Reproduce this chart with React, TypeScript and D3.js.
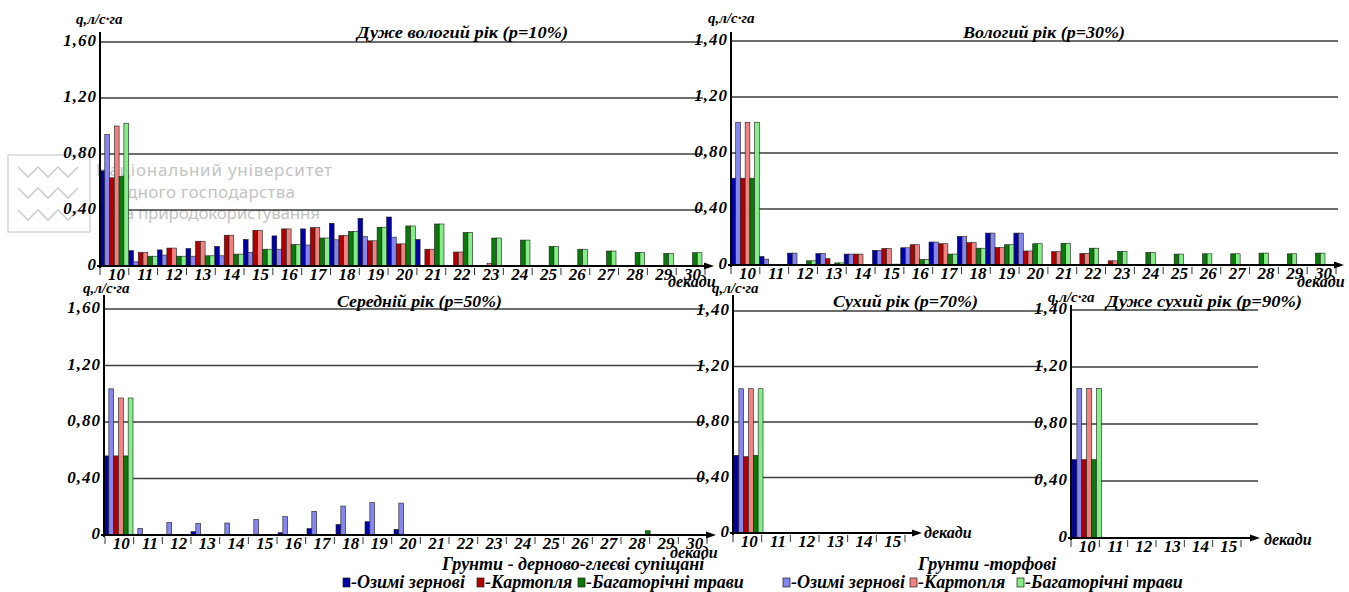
import React from "react";
import * as d3 from "d3";

// categories
const decadesLong = ["10", "11", "12", "13", "14", "15", "16", "17", "18", "19", "20",
  "21", "22", "23", "24", "25", "26", "27", "28", "29", "30"];
const decadesShort = ["10", "11", "12", "13", "14", "15"];

const yTickValues = [0, 0.4, 0.8, 1.2, 1.6];
const yLabelsA = ["0", "0,40", "0,80", "1,20", "1,60"];
const yLabelsB = ["0", "0,40", "0,80", "1,20", "1,40"];

const cropNames = ["Озимі зернові", "Картопля", "Багаторічні трави"];
const soilNames = ["Грунти - дерново-глеєві супіщані", "Грунти -торфові"];
// order: grain sod, grain peat, potato sod, potato peat, grass sod, grass peat
const colors = ["#0000a6", "#8686f0", "#b20000", "#f08282", "#0a780a", "#86ee86"];

// Дуже вологий рік (p=10%)
const p10GrainSod = [0.68, 0.11, 0.115, 0.125, 0.14, 0.19, 0.215, 0.265, 0.305, 0.34, 0.35, 0.19, 0, 0, 0, 0, 0, 0, 0, 0, 0];
const p10GrainPeat = [0.94, 0.03, 0.078, 0.07, 0.073, 0.097, 0.12, 0.15, 0.187, 0.21, 0.206, 0, 0, 0, 0, 0, 0, 0, 0, 0, 0];
const p10PotatoSod = [0.63, 0.097, 0.128, 0.177, 0.22, 0.255, 0.265, 0.274, 0.218, 0.18, 0.158, 0.12, 0.1, 0, 0, 0, 0, 0, 0, 0, 0];
const p10PotatoPeat = [1.0, 0.097, 0.128, 0.177, 0.22, 0.255, 0.265, 0.274, 0.218, 0.18, 0.158, 0.12, 0.1, 0.02, 0, 0, 0, 0, 0, 0, 0];
const p10GrassSod = [0.64, 0.07, 0.07, 0.073, 0.085, 0.12, 0.153, 0.2, 0.247, 0.277, 0.286, 0.3, 0.24, 0.2, 0.185, 0.14, 0.12, 0.107, 0.097, 0.09, 0.095];
const p10GrassPeat = [1.02, 0.07, 0.07, 0.073, 0.085, 0.12, 0.153, 0.2, 0.247, 0.277, 0.286, 0.3, 0.24, 0.2, 0.185, 0.14, 0.12, 0.107, 0.097, 0.09, 0.095];

// Вологий рік (p=30%)
const p30GrainSod = [0.62, 0.06, 0.085, 0.082, 0.078, 0.105, 0.123, 0.164, 0.204, 0.228, 0.228, 0, 0, 0, 0, 0, 0, 0, 0, 0, 0];
const p30GrainPeat = [1.02, 0.042, 0.085, 0.082, 0.078, 0.105, 0.123, 0.164, 0.204, 0.228, 0.228, 0, 0, 0, 0, 0, 0, 0, 0, 0, 0];
const p30PotatoSod = [0.62, 0, 0, 0.045, 0.078, 0.118, 0.145, 0.152, 0.16, 0.125, 0.1, 0.095, 0.083, 0.03, 0, 0, 0, 0, 0, 0, 0];
const p30PotatoPeat = [1.02, 0, 0, 0, 0.078, 0.118, 0.145, 0.152, 0.16, 0.125, 0.1, 0.095, 0.083, 0.03, 0, 0, 0, 0, 0, 0, 0];
const p30GrassSod = [0.62, 0, 0.03, 0.015, 0.004, 0.006, 0.04, 0.078, 0.12, 0.145, 0.152, 0.155, 0.12, 0.097, 0.09, 0.078, 0.08, 0.08, 0.085, 0.08, 0.085];
const p30GrassPeat = [1.02, 0, 0.03, 0.015, 0.004, 0.006, 0.04, 0.078, 0.12, 0.145, 0.152, 0.155, 0.12, 0.097, 0.09, 0.078, 0.08, 0.08, 0.085, 0.08, 0.085];

// Середній рік (p=50%)
const p50GrainSod = [0.56, 0, 0, 0.024, 0, 0, 0.016, 0.045, 0.075, 0.094, 0.04, 0, 0, 0, 0, 0, 0, 0, 0, 0, 0];
const p50GrainPeat = [1.035, 0.047, 0.089, 0.082, 0.085, 0.11, 0.13, 0.167, 0.205, 0.23, 0.226, 0, 0, 0, 0, 0, 0, 0, 0, 0, 0];
const p50PotatoSod = [0.56, 0, 0, 0, 0, 0, 0, 0, 0, 0, 0, 0, 0, 0, 0, 0, 0, 0, 0, 0, 0];
const p50PotatoPeat = [0.97, 0, 0, 0, 0, 0, 0, 0, 0, 0, 0, 0, 0, 0, 0, 0, 0, 0, 0, 0, 0];
const p50GrassSod = [0.56, 0, 0, 0, 0, 0, 0, 0, 0, 0, 0, 0, 0, 0, 0, 0, 0, 0, 0.03, 0, 0];
const p50GrassPeat = [0.97, 0, 0, 0, 0, 0, 0, 0, 0, 0, 0, 0, 0, 0, 0, 0, 0, 0, 0, 0, 0];

// Сухий рік (p=70%)
const p70GrainSod = [0.56, 0, 0, 0, 0, 0];
const p70GrainPeat = [1.04, 0, 0, 0, 0, 0];
const p70PotatoSod = [0.55, 0, 0, 0, 0, 0];
const p70PotatoPeat = [1.04, 0, 0, 0, 0, 0];
const p70GrassSod = [0.56, 0, 0, 0, 0, 0];
const p70GrassPeat = [1.04, 0, 0, 0, 0, 0];

// Дуже сухий рік (p=90%)
const p90GrainSod = [0.55, 0, 0, 0, 0, 0];
const p90GrainPeat = [1.05, 0, 0, 0, 0, 0];
const p90PotatoSod = [0.55, 0, 0, 0, 0, 0];
const p90PotatoPeat = [1.05, 0, 0, 0, 0, 0];
const p90GrassSod = [0.55, 0, 0, 0, 0, 0];
const p90GrassPeat = [1.05, 0, 0, 0, 0, 0];

const serif = "'Liberation Serif', 'Times New Roman', serif";
const bi = { fontFamily: serif, fontWeight: 700, fontStyle: "italic" } as const;

function Panel(p: any) {
  const x = d3.scaleBand<string>().domain(p.decades).range(p.barRange).padding(0);
  const xl = d3.scaleBand<string>().domain(p.decades).range(p.labelRange).padding(0);
  const sub = d3.scaleBand<number>().domain([0, 1, 2, 3, 4, 5]).range([0, x.bandwidth()]);
  const y = d3.scaleLinear().domain([0, 1.6]).range(p.yRange);
  const y0 = y(0);
  const ax = p.axisX;
  const arrow = d3.path();
  arrow.moveTo(p.arrowEnd, y0);
  arrow.lineTo(p.arrowEnd - 10, y0 - 3.5);
  arrow.lineTo(p.arrowEnd - 10, y0 + 3.5);
  arrow.closePath();

  return (
    <g>
      {yTickValues.filter(v => v > 0).map(v => (
        <line key={"g" + v} x1={ax} x2={p.gridEnd} y1={y(v)} y2={y(v)} stroke="#3c3c3c" strokeWidth={1.3} />
      ))}
      {p.series.map((vals: number[], si: number) =>
        vals.map((v, di) => v > 0 ? (
          <rect key={si + "-" + di}
            x={(x(p.decades[di]) as number) + (sub(si) as number)}
            y={y(v)} width={sub.bandwidth()} height={y0 - y(v)}
            fill={colors[si]} stroke="#1e1e1e" strokeWidth={0.6} />
        ) : null))}
      {/* axes */}
      <line x1={ax} x2={ax} y1={p.axisTop} y2={y0 + 2} stroke="#000" strokeWidth={2} />
      <line x1={ax - 3} x2={p.arrowEnd - 6} y1={y0} y2={y0} stroke="#000" strokeWidth={2} />
      <path d={arrow.toString()} fill="#000" />
      {p.decades.map((d: string) => (
        <line key={"t" + d} x1={xl(d)} x2={xl(d)} y1={y0 + 2} y2={y0 + 9} stroke="#333" strokeWidth={1} />
      ))}
      <line x1={p.labelRange[1]} x2={p.labelRange[1]} y1={y0 + 2} y2={y0 + 9} stroke="#333" strokeWidth={1} />
      {p.decades.map((d: string) => (
        <text key={"l" + d} x={(xl(d) as number) + xl.bandwidth() / 2 + 2} y={y0 + 14}
          textAnchor="middle" fontSize={17} {...bi}>{d}</text>
      ))}
      {yTickValues.map((v, i) => (
        <text key={"y" + v} x={ax - 3} y={y(v) + 4} textAnchor="end" fontSize={17}
          letterSpacing={1} {...bi}>{p.yLabels[i]}</text>
      ))}
      <text x={p.unitX} y={p.unitY} fontSize={15} {...bi}>q,л/с·га</text>
      <text x={p.titleX} y={p.titleY} fontSize={16} textLength={p.titleW}
        lengthAdjust="spacingAndGlyphs" {...bi}>{p.title}</text>
      <text x={p.dekX} y={p.dekY} fontSize={16} {...bi}>декади</text>
    </g>
  );
}

function Watermark() {
  const zig = (yy: number) => {
    const path = d3.path();
    const xs = [18, 28, 38, 48, 58, 68, 78];
    xs.forEach((xx, i) => {
      const yv = i % 2 === 0 ? yy - 5 : yy + 5;
      if (i === 0) path.moveTo(xx, yv); else path.lineTo(xx, yv);
    });
    return path.toString();
  };
  const tStyle = { fontFamily: "'Noto Sans', sans-serif", fontSize: 17, fill: "#c4c4c4" };
  return (
    <g>
      <rect x={8} y={155} width={82} height={77} fill="none" stroke="#d6d6d6" strokeWidth={1.5} />
      {[172, 193, 215].map(yy => (
        <path key={yy} d={zig(yy)} fill="none" stroke="#cfcfcf" strokeWidth={1.6} />
      ))}
      <text x={96} y={176} textLength={236} {...tStyle}>Національний університет</text>
      <text x={107} y={198} textLength={188} {...tStyle}>водного господарства</text>
      <text x={117} y={219} textLength={203} {...tStyle}>та природокористування</text>
    </g>
  );
}

export default function App() {
  const legendRows = [
    { sq: [343, 477, 578], tx: [351, 485, 586], cols: [colors[0], colors[2], colors[4]], y: 588 },
    { sq: [783, 910, 1017], tx: [791, 918, 1025], cols: [colors[1], colors[3], colors[5]], y: 588 },
  ];
  return (
    <div style={{ position: "absolute", left: 0, top: 0 }}>
      <svg width={1349} height={592} style={{ display: "block", background: "#fff" }}>
        <Watermark />
        <Panel decades={decadesLong}
          series={[p10GrainSod, p10GrainPeat, p10PotatoSod, p10PotatoPeat, p10GrassSod, p10GrassPeat]}
          barRange={[100, 702]} labelRange={[100, 705]} yRange={[266, 42]}
          axisX={100} axisTop={32} gridEnd={703} arrowEnd={714}
          yLabels={yLabelsA} unitX={76} unitY={24}
          title="Дуже вологий рік (р=10%)" titleX={357} titleY={38} titleW={211}
          dekX={668} dekY={287} />
        <Panel decades={decadesLong}
          series={[p30GrainSod, p30GrainPeat, p30PotatoSod, p30PotatoPeat, p30GrassSod, p30GrassPeat]}
          barRange={[731, 1325]} labelRange={[731, 1336]} yRange={[265, 41]}
          axisX={731} axisTop={32} gridEnd={1338} arrowEnd={1344}
          yLabels={yLabelsB} unitX={708} unitY={23}
          title="Вологий рік (р=30%)" titleX={963} titleY={38} titleW={162}
          dekX={1297} dekY={287} />
        <Panel decades={decadesLong}
          series={[p50GrainSod, p50GrainPeat, p50PotatoSod, p50PotatoPeat, p50GrassSod, p50GrassPeat]}
          barRange={[104, 713]} labelRange={[105, 707]} yRange={[535, 309]}
          axisX={104} axisTop={295} gridEnd={705} arrowEnd={716}
          yLabels={yLabelsA} unitX={83} unitY={293}
          title="Середній рік (р=50%)" titleX={337} titleY={307} titleW={165}
          dekX={670} dekY={558} />
        <Panel decades={decadesShort}
          series={[p70GrainSod, p70GrainPeat, p70PotatoSod, p70PotatoPeat, p70GrassSod, p70GrassPeat]}
          barRange={[734, 908]} labelRange={[733, 905]} yRange={[533, 311]}
          axisX={733} axisTop={295} gridEnd={1043} arrowEnd={922}
          yLabels={yLabelsB} unitX={712} unitY={293}
          title="Сухий рік (р=70%)" titleX={833} titleY={307} titleW={145}
          dekX={924} dekY={538} />
        <Panel decades={decadesShort}
          series={[p90GrainSod, p90GrainPeat, p90PotatoSod, p90PotatoPeat, p90GrassSod, p90GrassPeat]}
          barRange={[1072, 1248]} labelRange={[1071, 1241]} yRange={[538, 310]}
          axisX={1071} axisTop={305} gridEnd={1258} arrowEnd={1260}
          yLabels={yLabelsB} unitX={1048} unitY={302}
          title="Дуже сухий рік (р=90%)" titleX={1106} titleY={307} titleW={196}
          dekX={1264} dekY={545} />
        {/* soils and legend */}
        <text x={442} y={570} fontSize={18} {...bi}>{soilNames[0]}</text>
        <text x={918} y={570} fontSize={18} {...bi}>{soilNames[1]}</text>
        {legendRows.map((row, ri) => (
          <g key={ri}>
            {cropNames.map((name, i) => (
              <g key={name}>
                <rect x={row.sq[i]} y={row.y - 10} width={7} height={9} fill={row.cols[i]}
                  stroke="#1e1e1e" strokeWidth={0.7} />
                <text x={row.tx[i]} y={row.y} fontSize={18} {...bi}>{"-" + name}</text>
              </g>
            ))}
          </g>
        ))}
      </svg>
    </div>
  );
}
